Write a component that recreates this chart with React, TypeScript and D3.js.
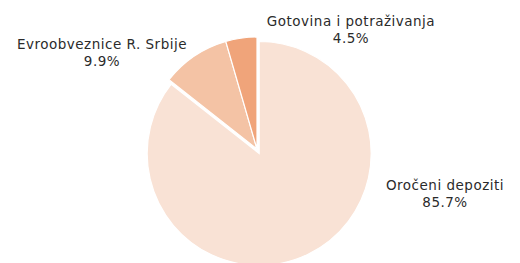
import React from 'react';
import * as d3 from 'd3';

const categories = ['Oročeni depoziti', 'Evroobveznice R. Srbije', 'Gotovina i potraživanja'];
const values = [85.7, 9.9, 4.5];
const percentLabels = ['85.7%', '9.9%', '4.5%'];
const colors = ['#f9e2d5', '#f4c3a5', '#f0a47a'];

// hand placed label anchors (like the original chart)
const labelPos = [
  { x: 445, y: 190 },
  { x: 102, y: 49 },
  { x: 351, y: 26 },
];

const width = 520;
const height = 263;
const cx = 257;
const cy = 149;
const radius = 112;
const explode = [5, 0, 0];

const App = () => {
  const pie = d3.pie<number>().sort(null).value(d => d);
  const arcs = pie(values);
  const arc = d3.arc<d3.PieArcDatum<number>>().innerRadius(0).outerRadius(radius);

  return (
    <svg width={width} height={height} style={{ position: 'absolute', left: 0, top: 0 }}>
      <g transform={`translate(${cx},${cy})`}>
        {arcs.map((a, i) => {
          const mid = (a.startAngle + a.endAngle) / 2;
          const dx = Math.sin(mid) * explode[i];
          const dy = -Math.cos(mid) * explode[i];
          return (
            <path
              key={i}
              d={arc(a) || ''}
              transform={`translate(${dx},${dy})`}
              fill={colors[i]}
              stroke="#ffffff"
              strokeWidth={1.2}
            />
          );
        })}
      </g>
      {categories.map((c, i) => (
        <text
          key={c}
          textAnchor="middle"
          fontFamily="'DejaVu Sans', sans-serif"
          fontSize={13.5}
          letterSpacing={0.5}
          fill="#2b2b2b"
        >
          <tspan x={labelPos[i].x} y={labelPos[i].y}>{c}</tspan>
          <tspan x={labelPos[i].x} y={labelPos[i].y + 17}>{percentLabels[i]}</tspan>
        </text>
      ))}
    </svg>
  );
};

export default App;
